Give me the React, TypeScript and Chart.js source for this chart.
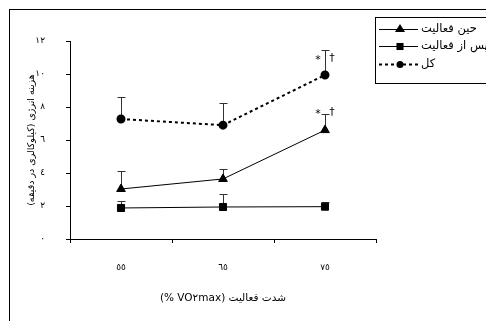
import React, { useEffect, useRef } from "react";
import { Chart, registerables } from "chart.js";

Chart.register(...registerables);

const xLabels = ["٥٥", "٦٥", "٧٥"];
const yTickLabels = ["٠", "٢", "٤", "٦", "٨", "١٠", "١٢"];
const seriesNames = ["حین فعالیت", "پس از فعالیت", "کل"];
const duringValues = [3.03, 3.64, 6.6];
const duringUpper = [4.1, 4.24, 7.6];
const afterValues = [1.88, 1.94, 1.96];
const afterUpper = [2.3, 2.7, 2.22];
const totalValues = [7.27, 6.9, 9.94];
const totalUpper = [8.62, 8.22, 11.45];
const yTitle = "هزینه انرژی (کیلوکالری در دقیقه)";
const xTitle = "شدت فعالیت (VO٢max %)";
const significance = [
  { series: 2, index: 2, dy: 8 },
  { series: 0, index: 2, dy: -1 },
];

const FONT = "'DejaVu Sans', 'Noto Sans', sans-serif";
const rtl = (s: string) => "\u202B" + s + "\u202C";

const extrasPlugin = {
  id: "extras",
  beforeDatasetsDraw(chart: any) {
    const ctx = chart.ctx;
    const y = chart.scales.y;
    const uppers = [duringUpper, afterUpper, totalUpper];
    ctx.save();
    ctx.strokeStyle = "#333";
    ctx.lineWidth = 1;
    chart.data.datasets.forEach((ds: any, di: number) => {
      const meta = chart.getDatasetMeta(di);
      meta.data.forEach((pt: any, i: number) => {
        const top = Math.round(y.getPixelForValue(uppers[di][i]));
        const x = Math.round(pt.x) + 0.5;
        ctx.beginPath();
        ctx.moveTo(x, pt.y);
        ctx.lineTo(x, top);
        ctx.moveTo(x - 4, top + 0.5);
        ctx.lineTo(x + 4, top + 0.5);
        ctx.stroke();
      });
    });
    ctx.restore();
  },
  afterDraw(chart: any) {
    const ctx = chart.ctx;
    const area = chart.chartArea;
    const y = chart.scales.y;
    const uppers = [duringUpper, afterUpper, totalUpper];
    ctx.save();
    // significance marks
    ctx.fillStyle = "#000";
    ctx.font = `11px ${FONT}`;
    ctx.textBaseline = "middle";
    ctx.textAlign = "center";
    significance.forEach((s) => {
      const pt = chart.getDatasetMeta(s.series).data[s.index];
      const ty = y.getPixelForValue(uppers[s.series][s.index]) + s.dy;
      ctx.fillText("*", pt.x - 7, ty + 2);
      ctx.fillText("†", pt.x + 7, ty);
    });

    // axis titles
    ctx.direction = "rtl";
    ctx.font = `9.5px ${FONT}`;
    ctx.save();
    ctx.translate(32, (area.top + area.bottom) / 2);
    ctx.rotate(-Math.PI / 2);
    ctx.fillText(rtl(yTitle), 0, 0);
    ctx.restore();
    ctx.font = `10.5px ${FONT}`;
    ctx.fillText(rtl(xTitle), (area.left + area.right) / 2, 298);

    // legend
    const lx = 375.5;
    const ly = 17.5;
    ctx.strokeStyle = "#000";
    ctx.lineWidth = 1;
    ctx.strokeRect(lx, ly, 200, 66);
    const rows = [29, 46, 64];
    chart.data.datasets.forEach((ds: any, di: number) => {
      const ry = rows[di];
      ctx.save();
      ctx.strokeStyle = "#000";
      ctx.lineWidth = ds.borderWidth;
      ctx.setLineDash(ds.borderDash || []);
      ctx.beginPath();
      ctx.moveTo(379, ry + 0.5);
      ctx.lineTo(418, ry + 0.5);
      ctx.stroke();
      ctx.restore();
      ctx.fillStyle = "#000";
      const r = ds.pointRadius;
      if (ds.pointStyle === "triangle") {
        ctx.beginPath();
        ctx.moveTo(400, ry - r);
        ctx.lineTo(400 + r, ry + r * 0.6);
        ctx.lineTo(400 - r, ry + r * 0.6);
        ctx.closePath();
        ctx.fill();
      } else if (ds.pointStyle === "rect") {
        const s = r * Math.SQRT1_2;
        ctx.fillRect(400 - s, ry - s + 0.5, 2 * s, 2 * s);
      } else {
        ctx.beginPath();
        ctx.arc(400, ry + 0.5, r, 0, Math.PI * 2);
        ctx.fill();
      }
      ctx.font = `11.5px ${FONT}`;
      ctx.textAlign = "left";
      ctx.direction = "rtl";
      ctx.fillText(rtl(ds.label), 421, ry);
    });
    ctx.restore();
  },
};

export default function App() {
  const ref = useRef<HTMLCanvasElement>(null);
  useEffect(() => {
    if (!ref.current) return;
    const chart = new Chart(ref.current, {
      type: "line",
      data: {
        labels: xLabels,
        datasets: [
          {
            label: seriesNames[0],
            data: duringValues,
            borderColor: "#000",
            backgroundColor: "#000",
            borderWidth: 1,
            pointStyle: "triangle",
            pointRadius: 5,
            pointHoverRadius: 5,
          },
          {
            label: seriesNames[1],
            data: afterValues,
            borderColor: "#000",
            backgroundColor: "#000",
            borderWidth: 1,
            pointStyle: "rect",
            pointRadius: 5,
            pointHoverRadius: 5,
          },
          {
            label: seriesNames[2],
            data: totalValues,
            borderColor: "#000",
            backgroundColor: "#000",
            borderWidth: 2,
            borderDash: [3, 3],
            pointStyle: "circle",
            pointRadius: 3.5,
            pointHoverRadius: 3.5,
          },
        ],
      },
      options: {
        animation: false,
        responsive: false,
        events: [],
        layout: { padding: { left: 0, top: 41, right: 110, bottom: 0 } },
        plugins: { legend: { display: false }, tooltip: { enabled: false } },
        scales: {
          x: {
            type: "category",
            offset: true,
            grid: { offset: true, drawOnChartArea: false, tickLength: 4, color: "#000" },
            border: { color: "#000", width: 1 },
            ticks: { color: "#000", padding: 19, font: { family: FONT, size: 9 } },
            afterFit: (s: any) => {
              s.height = 82;
            },
          },
          y: {
            min: 0,
            max: 12,
            ticks: {
              stepSize: 2,
              color: "#000",
              padding: 21,
              font: { family: FONT, size: 9 },
              callback: (_v: any, i: number) => yTickLabels[i],
            },
            grid: { drawOnChartArea: false, tickLength: 4, color: "#000" },
            border: { color: "#000", width: 1 },
            afterFit: (s: any) => {
              s.width = 70;
            },
          },
        },
      },
      plugins: [extrasPlugin],
    } as any);
    return () => chart.destroy();
  }, []);
  return (
    <div style={{ position: "fixed", inset: 0, overflow: "hidden", background: "#fff" }}>
      <div
        style={{
          position: "absolute",
          left: 9,
          top: 9,
          width: 600,
          height: 400,
          border: "1px solid #000",
        }}
      />
      <canvas
        ref={ref}
        width={486}
        height={321}
        style={{ position: "absolute", left: 0, top: 0, width: 486, height: 321 }}
      />
    </div>
  );
}
